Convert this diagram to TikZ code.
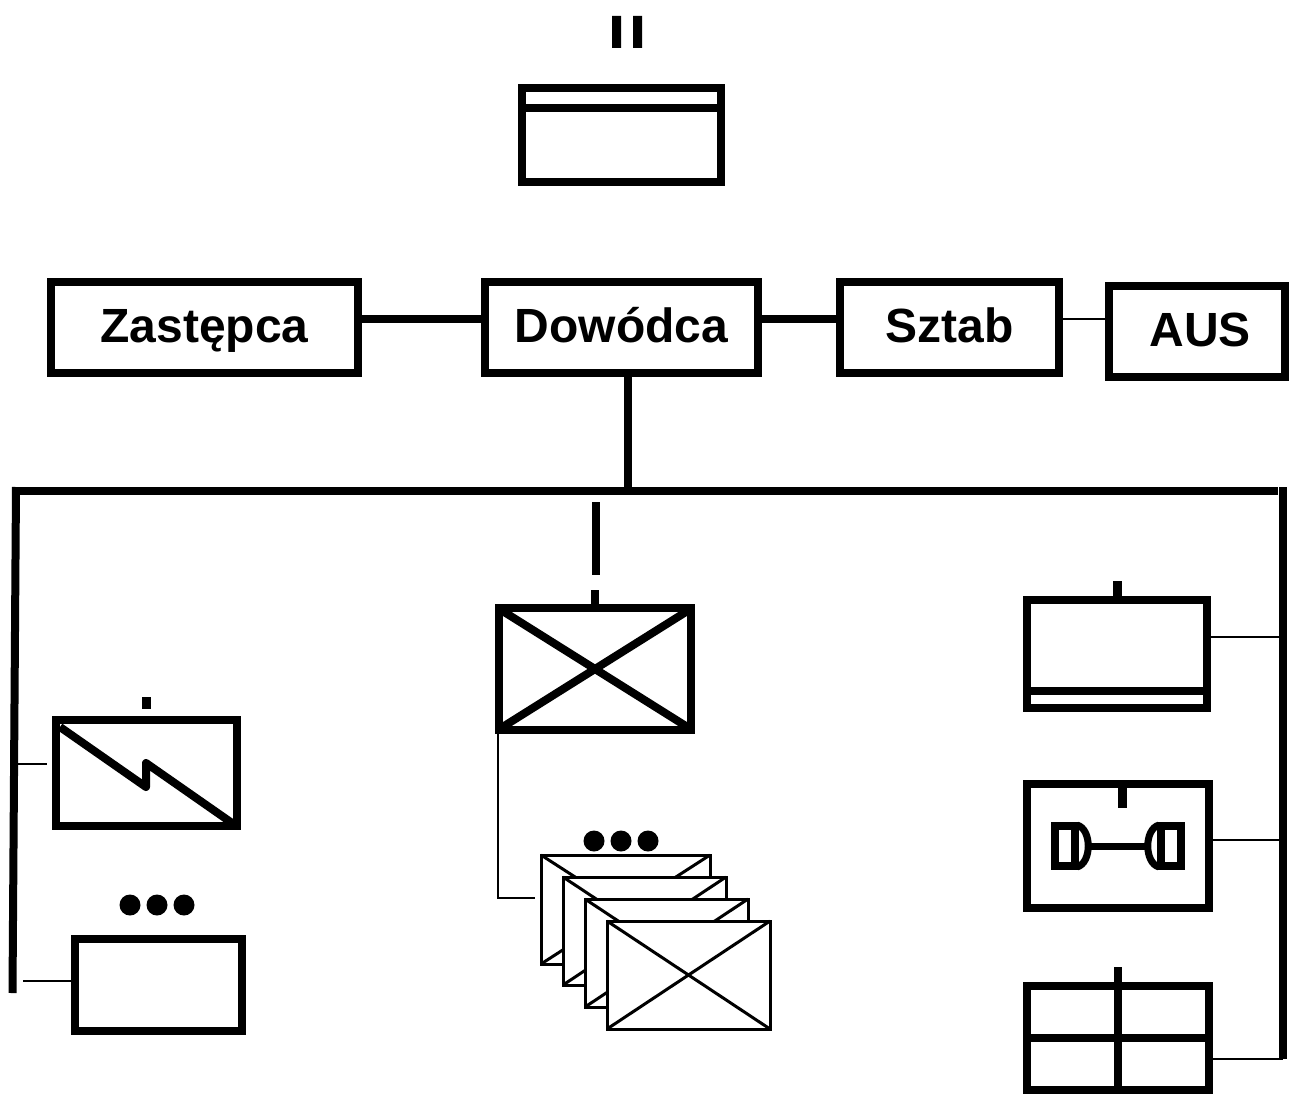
\documentclass[tikz,border=0pt]{standalone}
\usepackage{fontspec}
\usetikzlibrary{calc}
\setmainfont{Liberation Sans}
\tikzset{
  ubox/.style={draw=black,fill=white,line width=8pt,inner sep=0pt,rectangle},
  thinbox/.style={draw=black,fill=white,line width=3pt,inner sep=0pt,rectangle},
  label box/.style={ubox,font=\bfseries\fontsize{48}{48}\selectfont,text=black,text height=35pt,text depth=6pt},
  heavy/.style={draw=black,line width=8pt},
  medium/.style={draw=black,line width=8pt},
  fine/.style={draw=black,line width=2pt},
  dot/.style={circle,fill=black,inner sep=0pt,minimum size=21pt}
}
\begin{document}
\begin{tikzpicture}[x=1pt,y=-1pt]
\useasboundingbox (0,0) rectangle (1289,1094);
% top symbol
\path[fill=black] (612,16) rectangle (621,48) (633,16) rectangle (642,48);
\node[ubox,minimum width=199pt,minimum height=94pt] (top) at (621.5,135) {};
\draw[medium] (top.west |- 0,108) -- (top.east |- 0,108);
% headquarters row
\node[label box,minimum width=307pt,minimum height=91pt] (zast) at (204.5,327.5) {Zastępca};
\node[label box,minimum width=273pt,minimum height=91pt] (dow) at (621.5,327.5) {Dowódca};
\node[label box,minimum width=219pt,minimum height=91pt] (sztab) at (949.5,327.5) {Sztab};
\node[label box,minimum width=176pt,minimum height=91pt] (aus) at (1197,331.5) {\hspace*{6pt}AUS};
\draw[heavy] (zast.east |- 0,319) -- (dow.west |- 0,319);
\draw[heavy] (dow.east |- 0,319) -- (sztab.west |- 0,319);
\draw[fine] (sztab.east |- 0,319) -- (aus.west |- 0,319);
% bus
\coordinate (busL) at (12,491);
\coordinate (busC) at (628,491);
\coordinate (leftEnd) at (12.5,993);
\coordinate (leftTop) at (16,487);
\coordinate (rightEnd) at (1283,1059);
\coordinate (rightTop) at (1283,487);
\draw[heavy] (dow.south -| busC) -- (busC);
\draw[medium] (busL) -- (1278,491);
\draw[heavy] (leftTop) -- (leftEnd);
\draw[heavy] (rightTop) -- (rightEnd);
% centre branch
\node[ubox,minimum width=192pt,minimum height=122pt] (bn) at (595,669) {};
\draw[line width=8pt] ($(bn.north west)+(6,6)$) -- ($(bn.south east)+(-6,-6)$);
\draw[line width=8pt] ($(bn.south west)+(6,-6)$) -- ($(bn.north east)+(-6,6)$);
\draw[heavy] (596,502) -- (596,575);
\draw[heavy] (595,590) -- (bn.north -| 595,0);
% stack
\foreach \n/\a/\b/\c/\d in {s1/541/710/855/964,s2/563/726/877/985,s3/585/748/899/1007,s4/607/770/921/1029}{
  \draw[thinbox] (\a,\c) rectangle (\b,\d);
  \draw[line width=3pt] (\a,\c) -- (\b,\d) (\a,\d) -- (\b,\c);
}
\node[dot] (sd1) at (594,841) {};
\node[dot] (sd2) at (621,841) {};
\node[dot] (sd3) at (648,841) {};
\coordinate (stackIn) at (535,898);
\draw[fine] (498,734) |- (stackIn);
% left branch
\node[ubox,minimum width=181pt,minimum height=106pt] (sig) at (146.5,773) {};
\draw[line width=8pt,line join=round] (60,727) -- (146,787) -- (146,763) -- (232,823);
\path[fill=black] (142,697) rectangle (151,709);
\coordinate (sigIn) at (47,764);
\draw[fine] (18,764) -- (sigIn);
\node[dot] (ld1) at (130,905) {};
\node[dot] (ld2) at (157,905) {};
\node[dot] (ld3) at (184,905) {};
\node[ubox,minimum width=167pt,minimum height=92pt] (lbox) at (158.5,985) {};
\coordinate (lboxL) at (23,981);
\draw[fine] (lboxL) -- (lbox.west |- lboxL);
% right branch
\node[ubox,minimum width=180pt,minimum height=108pt] (r1) at (1117,654) {};
\draw[medium] (r1.west |- 0,691) -- (r1.east |- 0,691);
\path[fill=black] (1113,581) rectangle (1122,596);
\draw[fine] (r1.east |- 0,637) -- (rightEnd |- 0,637);
\node[ubox,minimum width=182pt,minimum height=124pt] (r2) at (1118,846) {};
\path[fill=black] (1117.5,788) rectangle (1126.5,808);
\draw[fine] (r2.east |- 0,840) -- (rightEnd |- 0,840);
% bridge symbol
\draw[line width=8pt] (1055,826) rectangle (1075,866);
\draw[line width=8pt] (1161,826) rectangle (1181,866);
\draw[line width=7pt] (1077,825) .. controls (1092,829) and (1092,863) .. (1077,867);
\draw[line width=7pt] (1159,825) .. controls (1144,829) and (1144,863) .. (1159,867);
\draw[line width=7pt] (1088,846) -- (1148,846);
\node[ubox,minimum width=182pt,minimum height=104pt] (r3) at (1118,1038) {};
\draw[medium] (r3.west) -- (r3.east);
\draw[medium] (1118,967) -- (1118,1092);
\draw[fine] (r3.east |- 0,1059) -- (rightEnd);
\end{tikzpicture}
\end{document}
